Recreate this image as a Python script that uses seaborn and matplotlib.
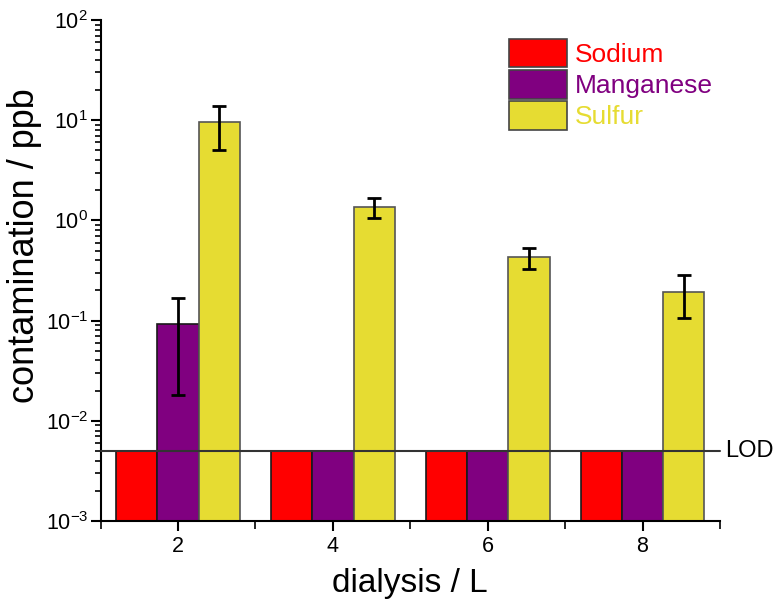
import matplotlib
matplotlib.use("Agg")
import matplotlib.pyplot as plt
import matplotlib.patches as mpatches
import matplotlib.transforms as mtransforms
from matplotlib.ticker import FixedLocator, LogLocator, NullFormatter
import numpy as np
import pandas as pd
import seaborn as sns

# Contamination per element after each dialysis volume (ppb)
dialysis = [2, 4, 6, 8]
elements = ["Sodium", "Manganese", "Sulfur"]
sodium = [0.005, 0.005, 0.005, 0.005]
manganese = [0.093, 0.005, 0.005, 0.005]
sulfur = [9.5, 1.36, 0.43, 0.195]
sodium_err = [0, 0, 0, 0]
manganese_err = [0.075, 0, 0, 0]
sulfur_err = [4.4, 0.3, 0.1, 0.09]
lod = 0.005

colors = {"Sodium": "#FF0000", "Manganese": "#800080", "Sulfur": "#E6DC32"}
edges = {"Sodium": "#1a1a1a", "Manganese": "#1a1a1a", "Sulfur": "#555555"}

values = {"Sodium": sodium, "Manganese": manganese, "Sulfur": sulfur}
errors = {"Sodium": sodium_err, "Manganese": manganese_err, "Sulfur": sulfur_err}

df = pd.DataFrame({
    "dialysis": np.tile(dialysis, len(elements)),
    "element": np.repeat(elements, len(dialysis)),
    "value": np.concatenate([values[e] for e in elements]),
})

sns.set_theme(style="ticks")
plt.rcParams["font.family"] = ["Liberation Sans", "DejaVu Sans"]
plt.rcParams["mathtext.fontset"] = "custom"
plt.rcParams["mathtext.rm"] = "Liberation Sans"
plt.rcParams["mathtext.it"] = "Liberation Sans:italic"
plt.rcParams["mathtext.bf"] = "Liberation Sans:bold"
plt.rcParams["axes.unicode_minus"] = False
plt.rcParams["text.color"] = "black"
plt.rcParams["axes.labelcolor"] = "black"

fig = plt.figure(figsize=(7.8, 6.01), dpi=100)
ax = fig.add_axes([0.129, 0.1331, 0.794, 0.8336])

sns.barplot(
    data=df, x="dialysis", y="value", hue="element", hue_order=elements,
    palette=colors, native_scale=True, log_scale=(False, True),
    width=0.8, errorbar=None, saturation=1, legend=False, ax=ax,
    linewidth=1.2, zorder=2,
)

# Edge colours per element and error bars at the bar centres
for cont, el in zip(ax.containers, elements):
    xs = []
    for p in cont.patches:
        p.set_edgecolor(edges[el])
        xs.append(p.get_x() + p.get_width() / 2)
    err = np.array(errors[el])
    mask = err > 0
    if mask.any():
        ax.errorbar(np.array(xs)[mask], np.array(values[el])[mask],
                    yerr=err[mask], fmt="none", ecolor="black",
                    elinewidth=2, capsize=5, capthick=2, zorder=4)

# Limit of detection
ax.axhline(lod, color="#333333", lw=1.5, zorder=3, clip_on=False)
trans = mtransforms.blended_transform_factory(ax.transAxes, ax.transData)
ax.text(1.008, lod, "LOD", transform=trans, ha="left", va="center",
        fontsize=17, color="black", clip_on=False)

ax.set_yscale("log")
ax.set_ylim(1e-3, 1e2)
ax.set_xlim(1, 9)
ax.xaxis.set_major_locator(FixedLocator(dialysis))
ax.xaxis.set_minor_locator(FixedLocator([1, 3, 5, 7, 9]))
ax.yaxis.set_major_locator(LogLocator(base=10, numticks=10))
ax.yaxis.set_minor_locator(LogLocator(base=10, subs=np.arange(2, 10), numticks=100))
ax.yaxis.set_minor_formatter(NullFormatter())

for s in ["top", "right"]:
    ax.spines[s].set_visible(False)
for s in ["left", "bottom"]:
    ax.spines[s].set_linewidth(1.5)
    ax.spines[s].set_color("black")

ax.tick_params(axis="both", which="major", direction="out", length=7, width=1.5,
               labelsize=15.5, color="black", labelcolor="black", pad=4)
ax.tick_params(axis="y", which="major", pad=2)
ax.tick_params(axis="both", which="minor", direction="out", length=4, width=1.2,
               color="black")
ax.tick_params(axis="x", which="minor", length=6)

ax.set_xlabel("dialysis / L", fontsize=24, labelpad=8)
ax.set_ylabel("contamination / ppb", fontsize=26)
ax.yaxis.set_label_coords(-0.094, 0.55)

handles = [mpatches.Patch(facecolor=colors[e], edgecolor="#444444", linewidth=1.2)
           for e in elements]
fig.legend(handles, elements, loc="upper left", bbox_to_anchor=(0.6526, 0.935),
           frameon=False, fontsize=19, handlelength=2.2, handleheight=1.28,
           handletextpad=0.3, labelspacing=0.1, borderpad=0, borderaxespad=0,
           labelcolor=[colors[e] for e in elements])

fig.savefig("out.png", dpi=100)
